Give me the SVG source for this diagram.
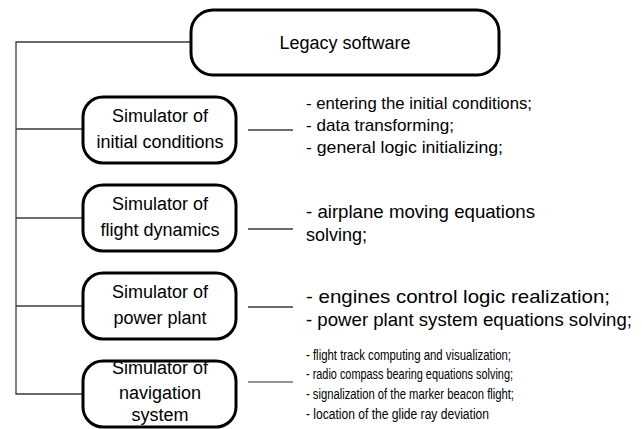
<svg xmlns="http://www.w3.org/2000/svg" width="642" height="429" viewBox="0 0 642 429">
  <style>
    .box { fill: #ffffff; stroke: #000000; stroke-width: 3; }
    .link { fill: none; stroke: #3a3a3a; stroke-width: 1.3; }
    .link-grey { fill: none; stroke: #707070; stroke-width: 1.5; }
    .label { font-family: "Liberation Sans", Arial, sans-serif; font-size: 18px; fill: #000000; text-anchor: middle; }
    .note { font-family: "Liberation Sans", Arial, sans-serif; font-size: 17px; fill: #000000; }
    .note-big { font-family: "Liberation Sans", Arial, sans-serif; font-size: 19px; fill: #000000; }
    .note-small { font-family: "Liberation Sans", Arial, sans-serif; font-size: 14px; fill: #000000; }
  </style>
  <rect width="642" height="429" fill="#ffffff"/>

  <!-- connectors -->
  <g id="connectors">
    <polyline class="link" points="191,42 16,42 16,394 83,394"/>
    <line class="link" x1="16" y1="129" x2="83" y2="129"/>
    <line class="link" x1="16" y1="218" x2="83" y2="218"/>
    <line class="link" x1="16" y1="306" x2="83" y2="306"/>
    <line class="link" x1="248" y1="130" x2="293" y2="130"/>
    <line class="link" x1="248" y1="229" x2="293" y2="229"/>
    <line class="link" x1="248" y1="307" x2="293" y2="307"/>
    <line class="link-grey" x1="248" y1="382" x2="293" y2="382"/>
  </g>

  <!-- root -->
  <g id="legacy-software">
    <rect class="box" x="191" y="10" width="308" height="65" rx="22" ry="22"/>
    <text class="label" x="345" y="49">Legacy software</text>
  </g>

  <g id="initial-conditions">
    <rect class="box" x="83" y="97" width="153" height="66" rx="20" ry="20"/>
    <text class="label" x="160" y="122">Simulator of</text>
    <text class="label" x="160" y="148">initial conditions</text>
    <text class="note" x="306" y="109" textLength="226" lengthAdjust="spacingAndGlyphs">- entering the initial conditions;</text>
    <text class="note" x="306" y="131" textLength="148" lengthAdjust="spacingAndGlyphs">- data transforming;</text>
    <text class="note" x="306" y="153" textLength="197" lengthAdjust="spacingAndGlyphs">- general logic initializing;</text>
  </g>

  <g id="flight-dynamics">
    <rect class="box" x="83" y="185" width="153" height="66" rx="20" ry="20"/>
    <text class="label" x="160" y="210">Simulator of</text>
    <text class="label" x="160" y="236">flight dynamics</text>
    <text class="note-big" x="306" y="218" textLength="229" lengthAdjust="spacingAndGlyphs">- airplane moving equations</text>
    <text class="note-big" x="306" y="241" textLength="61" lengthAdjust="spacingAndGlyphs">solving;</text>
  </g>

  <g id="power-plant">
    <rect class="box" x="83" y="273" width="153" height="66" rx="20" ry="20"/>
    <text class="label" x="160" y="298">Simulator of</text>
    <text class="label" x="160" y="324">power plant</text>
    <text class="note-big" x="306" y="303" textLength="304" lengthAdjust="spacingAndGlyphs">- engines control logic realization;</text>
    <text class="note-big" x="306" y="326" textLength="326" lengthAdjust="spacingAndGlyphs">- power plant system equations solving;</text>
  </g>

  <g id="navigation-system">
    <rect class="box" x="83" y="361" width="153" height="66" rx="20" ry="20"/>
    <text class="label" x="160" y="374">Simulator of</text>
    <text class="label" x="160" y="399">navigation</text>
    <text class="label" x="160" y="421">system</text>
    <text class="note-small" x="306" y="360" textLength="205" lengthAdjust="spacingAndGlyphs">- flight track computing and visualization;</text>
    <text class="note-small" x="306" y="379" textLength="207" lengthAdjust="spacingAndGlyphs">- radio compass bearing equations solving;</text>
    <text class="note-small" x="306" y="399" textLength="208" lengthAdjust="spacingAndGlyphs">- signalization of the marker beacon flight;</text>
    <text class="note-small" x="306" y="419" textLength="183" lengthAdjust="spacingAndGlyphs">- location of the glide ray deviation</text>
  </g>
</svg>
